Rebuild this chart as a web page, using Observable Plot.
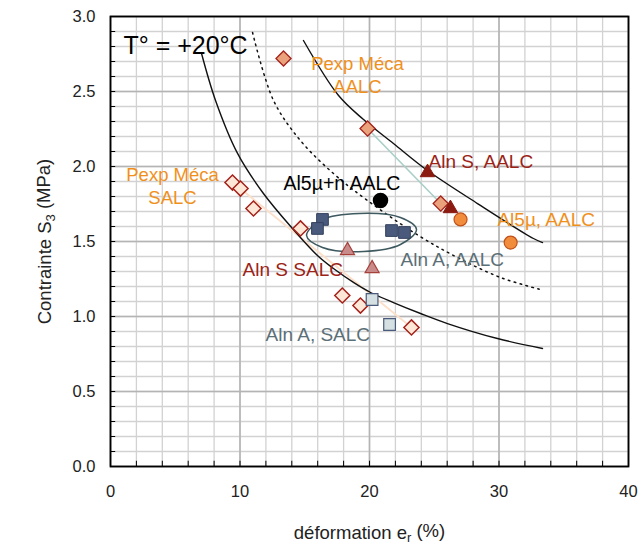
<!DOCTYPE html>
<html><head><meta charset="utf-8">
<script src="https://cdn.jsdelivr.net/npm/d3@7"></script>
<script src="https://cdn.jsdelivr.net/npm/@observablehq/plot@0.6"></script>
<style>body{margin:0;background:#fff;} svg{display:block}</style>
</head><body><div id="chart"></div>
<script>
// ---- data ----
const pexpAALC_x = [13.36, 19.85, 25.5];
const pexpAALC_y = [2.72, 2.253, 1.753];
const pexpSALC_x = [9.42, 10.04, 11.04, 14.67, 17.9, 19.3, 23.24];
const pexpSALC_y = [1.893, 1.853, 1.72, 1.587, 1.14, 1.073, 0.927];
const alnS_AALC_x = [24.48, 26.25];
const alnS_AALC_y = [1.96, 1.72];
const alnS_SALC_x = [18.3, 20.2];
const alnS_SALC_y = [1.44, 1.32];
const al5_AALC_x = [27.03, 30.9];
const al5_AALC_y = [1.647, 1.493];
const al5n_AALC_x = [20.85];
const al5n_AALC_y = [1.773];
const alnA_AALC_x = [16.37, 15.98, 21.7, 22.7];
const alnA_AALC_y = [1.647, 1.587, 1.573, 1.56];
const alnA_SALC_x = [20.2, 21.55];
const alnA_SALC_y = [1.113, 0.947];

const curveLow_x = [7.03, 8.11, 9.81, 11.81, 14.05, 15.98, 17.22, 18.76, 20.08, 21.85, 23.94, 26.02, 29.88, 33.36];
const curveLow_y = [2.753, 2.44, 2.087, 1.82, 1.587, 1.407, 1.32, 1.227, 1.16, 1.093, 1.02, 0.953, 0.853, 0.787];
const curveHigh_x = [14.9, 17.61, 19.54, 21.85, 24.48, 28.34, 32.66, 33.36];
const curveHigh_y = [2.84, 2.473, 2.313, 2.153, 1.973, 1.753, 1.52, 1.493];
const curveDot_x = [10.97, 12.59, 14.67, 17.22, 19.85, 23.78, 26.8, 30.12, 33.2];
const curveDot_y = [2.893, 2.44, 2.173, 1.953, 1.773, 1.54, 1.393, 1.26, 1.18];
const ellipse_x = [23.63, 22.39, 19.23, 16.37, 15.14, 16.37, 19.54, 22.39];
const ellipse_y = [1.58, 1.66, 1.687, 1.647, 1.54, 1.46, 1.433, 1.48];
const trendSALC_A_x = [9.42, 23.24], trendSALC_A_y = [1.893, 0.927];
const trendSALC_B_x = [10.04, 23.24], trendSALC_B_y = [1.853, 0.927];
const trendAALC_x = [19.85, 25.5], trendAALC_y = [2.253, 1.753];

const xTicks = [0, 10, 20, 30, 40];
const yTicks = [0, 0.5, 1.0, 1.5, 2.0, 2.5, 3.0];
const xMinor = d3.range(0, 40.001, 2);
const yMinor = d3.range(0, 3.0001, 0.1).map(v => +v.toFixed(1));

const rows = (xs, ys) => xs.map((x, i) => ({x, y: ys[i]}));

const font = "Liberation Sans, Arial, sans-serif";
const orange = "#f0901c", darkred = "#9b2317", slate = "#5b6f77";

const labels = [
  {t: "T° = +20°C", x: 1.0, y: 2.82, c: "#000", a: "start", fs: 25},
  {t: "Pexp Méca\nAALC", x: 19.07, y: 2.617, c: orange, a: "middle", fs: 18.5},
  {t: "Pexp Méca\nSALC", x: 4.79, y: 1.877, c: orange, a: "middle", fs: 18.5},
  {t: "Aln S, AALC", x: 24.56, y: 2.043, c: darkred, a: "start", fs: 19},
  {t: "Al5µ+n AALC", x: 13.36, y: 1.897, c: "#000", a: "start", fs: 19.5},
  {t: "Al5µ, AALC", x: 29.88, y: 1.653, c: orange, a: "start", fs: 19},
  {t: "Aln S SALC", x: 10.2, y: 1.32, c: darkred, a: "start", fs: 19},
  {t: "Aln A, AALC", x: 22.4, y: 1.387, c: slate, a: "start", fs: 19},
  {t: "Aln A, SALC", x: 11.97, y: 0.887, c: slate, a: "start", fs: 19}
];

const chart = Plot.plot({
  width: 642, height: 557,
  marginLeft: 110, marginRight: 14, marginTop: 16, marginBottom: 91,
  style: {fontFamily: font, background: "#fff", overflow: "visible"},
  x: {domain: [0, 40]},
  y: {domain: [0, 3]},
  marks: [
    Plot.gridX(xMinor, {stroke: "#d2d2d2", strokeOpacity: 1, strokeWidth: 1.3}),
    Plot.gridY(yMinor, {stroke: "#d2d2d2", strokeOpacity: 1, strokeWidth: 1.3}),
    Plot.gridX(xTicks, {stroke: "#b4b4b4", strokeOpacity: 1, strokeWidth: 1.6}),
    Plot.gridY(yTicks, {stroke: "#b4b4b4", strokeOpacity: 1, strokeWidth: 1.6}),
    Plot.ruleY(yMinor, {x1: 0, x2: 0.4, stroke: "#000", strokeWidth: 1}),
    Plot.ruleX(xMinor, {y1: 0, y2: 0.035, stroke: "#000", strokeWidth: 1}),
    Plot.frame({stroke: "#000", strokeWidth: 1.8}),
    Plot.axisX({ticks: xTicks, tickSize: 0, tickPadding: 19, fontSize: 16.5, label: null, color: "#222"}),
    Plot.axisY({ticks: yTicks, tickSize: 0, tickPadding: 15, fontSize: 16.5, label: null, tickFormat: d3.format(".1f"), color: "#222"}),
    // faint connecting lines
    Plot.line(rows(trendSALC_A_x, trendSALC_A_y), {x: "x", y: "y", stroke: "#fde0cb", strokeWidth: 1.6}),
    Plot.line(rows(trendSALC_B_x, trendSALC_B_y), {x: "x", y: "y", stroke: "#fde0cb", strokeWidth: 1.6}),
    Plot.line(rows(trendAALC_x, trendAALC_y), {x: "x", y: "y", stroke: "#a9cfc7", strokeWidth: 1.6}),
    // curves
    Plot.line(rows(curveLow_x, curveLow_y), {x: "x", y: "y", stroke: "#111", strokeWidth: 1.4, curve: "catmull-rom"}),
    Plot.line(rows(curveHigh_x, curveHigh_y), {x: "x", y: "y", stroke: "#111", strokeWidth: 1.4, curve: "catmull-rom"}),
    Plot.line(rows(curveDot_x, curveDot_y), {x: "x", y: "y", stroke: "#111", strokeWidth: 1.5, strokeDasharray: "1.6,4.5", curve: "catmull-rom"}),
    Plot.line(rows(ellipse_x, ellipse_y), {x: "x", y: "y", stroke: "#3e5a60", strokeWidth: 1.5, curve: "catmull-rom-closed"}),
    // points
    Plot.dot(rows(pexpSALC_x, pexpSALC_y), {x: "x", y: "y", symbol: "diamond2", r: 6.8, fill: "#fde8d8", stroke: "#a4221a", strokeWidth: 1.5}),
    Plot.dot(rows(pexpAALC_x, pexpAALC_y), {x: "x", y: "y", symbol: "diamond2", r: 6.8, fill: "#e9a27c", stroke: "#a4221a", strokeWidth: 1.3}),
    Plot.dot(rows(alnA_AALC_x, alnA_AALC_y), {x: "x", y: "y", symbol: "square", r: 6.6, fill: "#4a5a7c", stroke: "#34425e", strokeWidth: 1}),
    Plot.dot(rows(alnA_SALC_x, alnA_SALC_y), {x: "x", y: "y", symbol: "square", r: 6.6, fill: "#d5e0e3", stroke: "#4a5a7a", strokeWidth: 1.2}),
    Plot.dot(rows(alnS_SALC_x, alnS_SALC_y), {x: "x", y: "y", symbol: "triangle", r: 5.2, fill: "#c98a8a", stroke: "#a5403a", strokeWidth: 1.2}),
    Plot.dot(rows(alnS_AALC_x, alnS_AALC_y), {x: "x", y: "y", symbol: "triangle", r: 5.4, fill: "#8b1a10", stroke: "#8b1a10", strokeWidth: 1}),
    Plot.dot(rows(al5_AALC_x, al5_AALC_y), {x: "x", y: "y", symbol: "circle", r: 6.5, fill: "#f08c3c", stroke: "#c0501a", strokeWidth: 1.2}),
    Plot.dot(rows(al5n_AALC_x, al5n_AALC_y), {x: "x", y: "y", symbol: "circle", r: 7, fill: "#000", stroke: "#000"}),
    // annotations
    ...labels.map(l => Plot.text([l], {x: "x", y: "y", text: "t", fill: "c", textAnchor: l.a, fontSize: l.fs, lineHeight: 1.25, lineAnchor: "middle"})),
    // axis titles
    Plot.text(["XLABEL"], {frameAnchor: "bottom", dy: 72, textAnchor: "middle", fontSize: 18.5, fill: "#222"}),
    Plot.text(["YLABEL"], {frameAnchor: "left", dx: -65, rotate: -90, textAnchor: "middle", lineAnchor: "middle", fontSize: 18.5, fill: "#222"})
  ]
});
document.getElementById("chart").appendChild(chart);

// subscripts in axis titles
d3.select(chart).selectAll("text").each(function () {
  const el = d3.select(this);
  const txt = this.textContent;
  if (txt === "XLABEL" || txt === "YLABEL") {
    el.text(null);
    const [main, sub, rest] = txt === "XLABEL" ? ["déformation e", "r", " (%)"] : ["Contrainte S", "3", " (MPa)"];
    el.append("tspan").text(main);
    el.append("tspan").attr("dy", "0.3em").attr("font-size", "13").text(sub);
    el.append("tspan").attr("dy", "-0.3em").text(rest);
  }
});
</script></body></html>
